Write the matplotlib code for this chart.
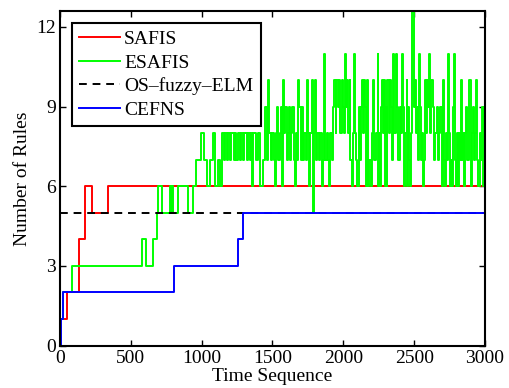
import matplotlib
matplotlib.use("Agg")
import matplotlib.pyplot as plt

plt.rcParams["font.family"] = ["Liberation Serif", "DejaVu Serif"]

# change points (time, number of rules), steps-post
safis_t = [0, 5, 52, 134, 177, 224, 341, 3000]
safis_v = [0, 1, 2, 4, 6, 5, 6, 6]

cefns_t = [0, 7, 23, 807, 1254, 1295, 3000]
cefns_v = [0, 1, 2, 3, 4, 5, 5]

osfuzzy_t = [0, 3000]
osfuzzy_v = [5, 5]

esafis_t = [0, 5, 20, 82, 581, 605, 659, 682, 690, 718, 777, 782, 790, 795, 836, 907, 942, 955,
            960, 995, 1017, 1036, 1059, 1080, 1094, 1115, 1130, 1144, 1155, 1165, 1180, 1188,
            1200, 1210, 1225, 1232, 1245, 1255, 1270, 1280, 1292, 1300, 1318, 1325, 1340, 1348,
            1353, 1360, 1372, 1385, 1398, 1412, 1435, 1447, 1458, 1470, 1478, 1490, 1500, 1510,
            1518, 1525, 1530, 1540, 1552, 1560, 1565, 1572, 1582, 1590, 1600, 1608, 1615, 1625,
            1632, 1640, 1650, 1659, 1666, 1676, 1683, 1690, 1700, 1707, 1715, 1722, 1735, 1742,
            1750, 1760, 1768, 1777, 1784, 1788, 1794, 1800, 1806, 1815, 1825, 1834, 1847, 1855,
            1862, 1872, 1882, 1892, 1901, 1908, 1918, 1928, 1935, 1945, 1952, 1962, 1970, 1978,
            1988, 1996, 2005, 2012, 2020, 2028, 2036, 2044, 2050, 2061, 2068, 2076, 2084, 2092,
            2100, 2108, 2118, 2125, 2132, 2140, 2148, 2156, 2160, 2166, 2172, 2177, 2182, 2195,
            2202, 2212, 2220, 2230, 2243, 2248, 2254, 2259, 2266, 2271, 2280, 2288, 2295, 2300,
            2306, 2312, 2320, 2328, 2336, 2345, 2353, 2360, 2370, 2378, 2388, 2398, 2406, 2412,
            2420, 2431, 2438, 2447, 2452, 2460, 2466, 2471, 2476, 2483, 2498, 2505, 2512, 2520,
            2528, 2534, 2540, 2548, 2556, 2565, 2570, 2575, 2583, 2590, 2598, 2606, 2614, 2622,
            2630, 2640, 2650, 2659, 2668, 2676, 2683, 2695, 2702, 2712, 2718, 2726, 2734, 2742,
            2748, 2753, 2758, 2765, 2772, 2780, 2788, 2796, 2804, 2812, 2817, 2822, 2830, 2840,
            2847, 2852, 2860, 2868, 2876, 2884, 2890, 2898, 2906, 2914, 2922, 2930, 2937, 2945,
            2954, 2962, 2970, 2977, 2989, 2994, 3000]
esafis_v = [0, 1, 2, 3, 4, 3, 4, 5, 6, 5, 6, 5, 6, 5, 6, 5, 6, 6,
            7, 8, 7, 6, 7, 8, 6, 7, 6, 8, 7, 8, 7, 8,
            7, 8, 7, 8, 7, 8, 7, 8, 7, 8, 7, 8, 7, 8,
            6, 8, 8, 7, 8, 6, 7, 9, 7, 10, 8, 7, 8, 7,
            6, 8, 9, 7, 8, 9, 6, 10, 8, 9, 7, 8, 9, 7,
            8, 9, 7, 6, 8, 7, 10, 9, 7, 9, 7, 8, 7, 10,
            8, 6, 8, 10, 7, 5, 8, 10, 7, 8, 7, 8, 6, 7,
            11, 7, 8, 7, 6, 8, 7, 9, 10, 8, 10, 9, 10, 8,
            10, 9, 8, 11, 9, 10, 8, 10, 7, 6, 8, 11, 8, 7,
            6, 9, 7, 9, 10, 8, 10, 9, 6, 10, 9, 6, 7, 6,
            8, 10, 7, 8, 11, 6, 8, 6, 9, 10, 8, 10, 6, 9,
            6, 10, 8, 10, 9, 7, 11, 8, 11, 9, 7, 9, 8, 11,
            9, 6, 8, 10, 6, 9, 7, 6, 8, 13, 9, 10, 8, 9,
            7, 11, 9, 7, 8, 6, 7, 10, 8, 10, 9, 11, 8, 10,
            9, 7, 8, 9, 7, 8, 9, 6, 10, 7, 6, 8, 7, 11,
            8, 6, 7, 6, 9, 11, 7, 6, 8, 6, 8, 7, 10, 7,
            8, 6, 8, 9, 7, 8, 10, 6, 8, 9, 7, 8, 10, 7,
            6, 8, 7, 9, 6, 9, 9]

fig = plt.figure(figsize=(5.1, 3.88), dpi=100)
ax = fig.add_axes([0.1176, 0.1095, 0.8333, 0.862])

ax.plot(safis_t, safis_v, color="red", lw=1.4, drawstyle="steps-post", label="SAFIS")
ax.plot(esafis_t, esafis_v, color="#00ff00", lw=1.4, drawstyle="steps-post", label="ESAFIS")
ax.plot(osfuzzy_t, osfuzzy_v, color="black", lw=1.4, ls=(0, (4, 3)), label="OS\u2013fuzzy\u2013ELM")
ax.plot(cefns_t, cefns_v, color="blue", lw=1.4, drawstyle="steps-post", label="CEFNS")

ax.set_xlim(0, 3000)
ax.set_ylim(0, 12.6)
ax.set_xticks(range(0, 3001, 500))
ax.set_yticks([0, 3, 6, 9, 12])
ax.tick_params(direction="in", top=True, right=True, length=4, width=1, labelsize=14, pad=3)
for s in ax.spines.values():
    s.set_linewidth(1.5)

ax.set_xlabel("Time Sequence", fontsize=14, labelpad=1)
ax.set_ylabel("Number of Rules", fontsize=14, labelpad=4)

leg = ax.legend(loc="upper left", fontsize=14, frameon=True, fancybox=False, framealpha=1,
                edgecolor="black", borderaxespad=0.6, handlelength=2.1, handletextpad=0.2,
                labelspacing=0.3, borderpad=0.4)
leg.get_frame().set_linewidth(1.5)

plt.savefig("out.png", dpi=100)
plt.close(fig)
